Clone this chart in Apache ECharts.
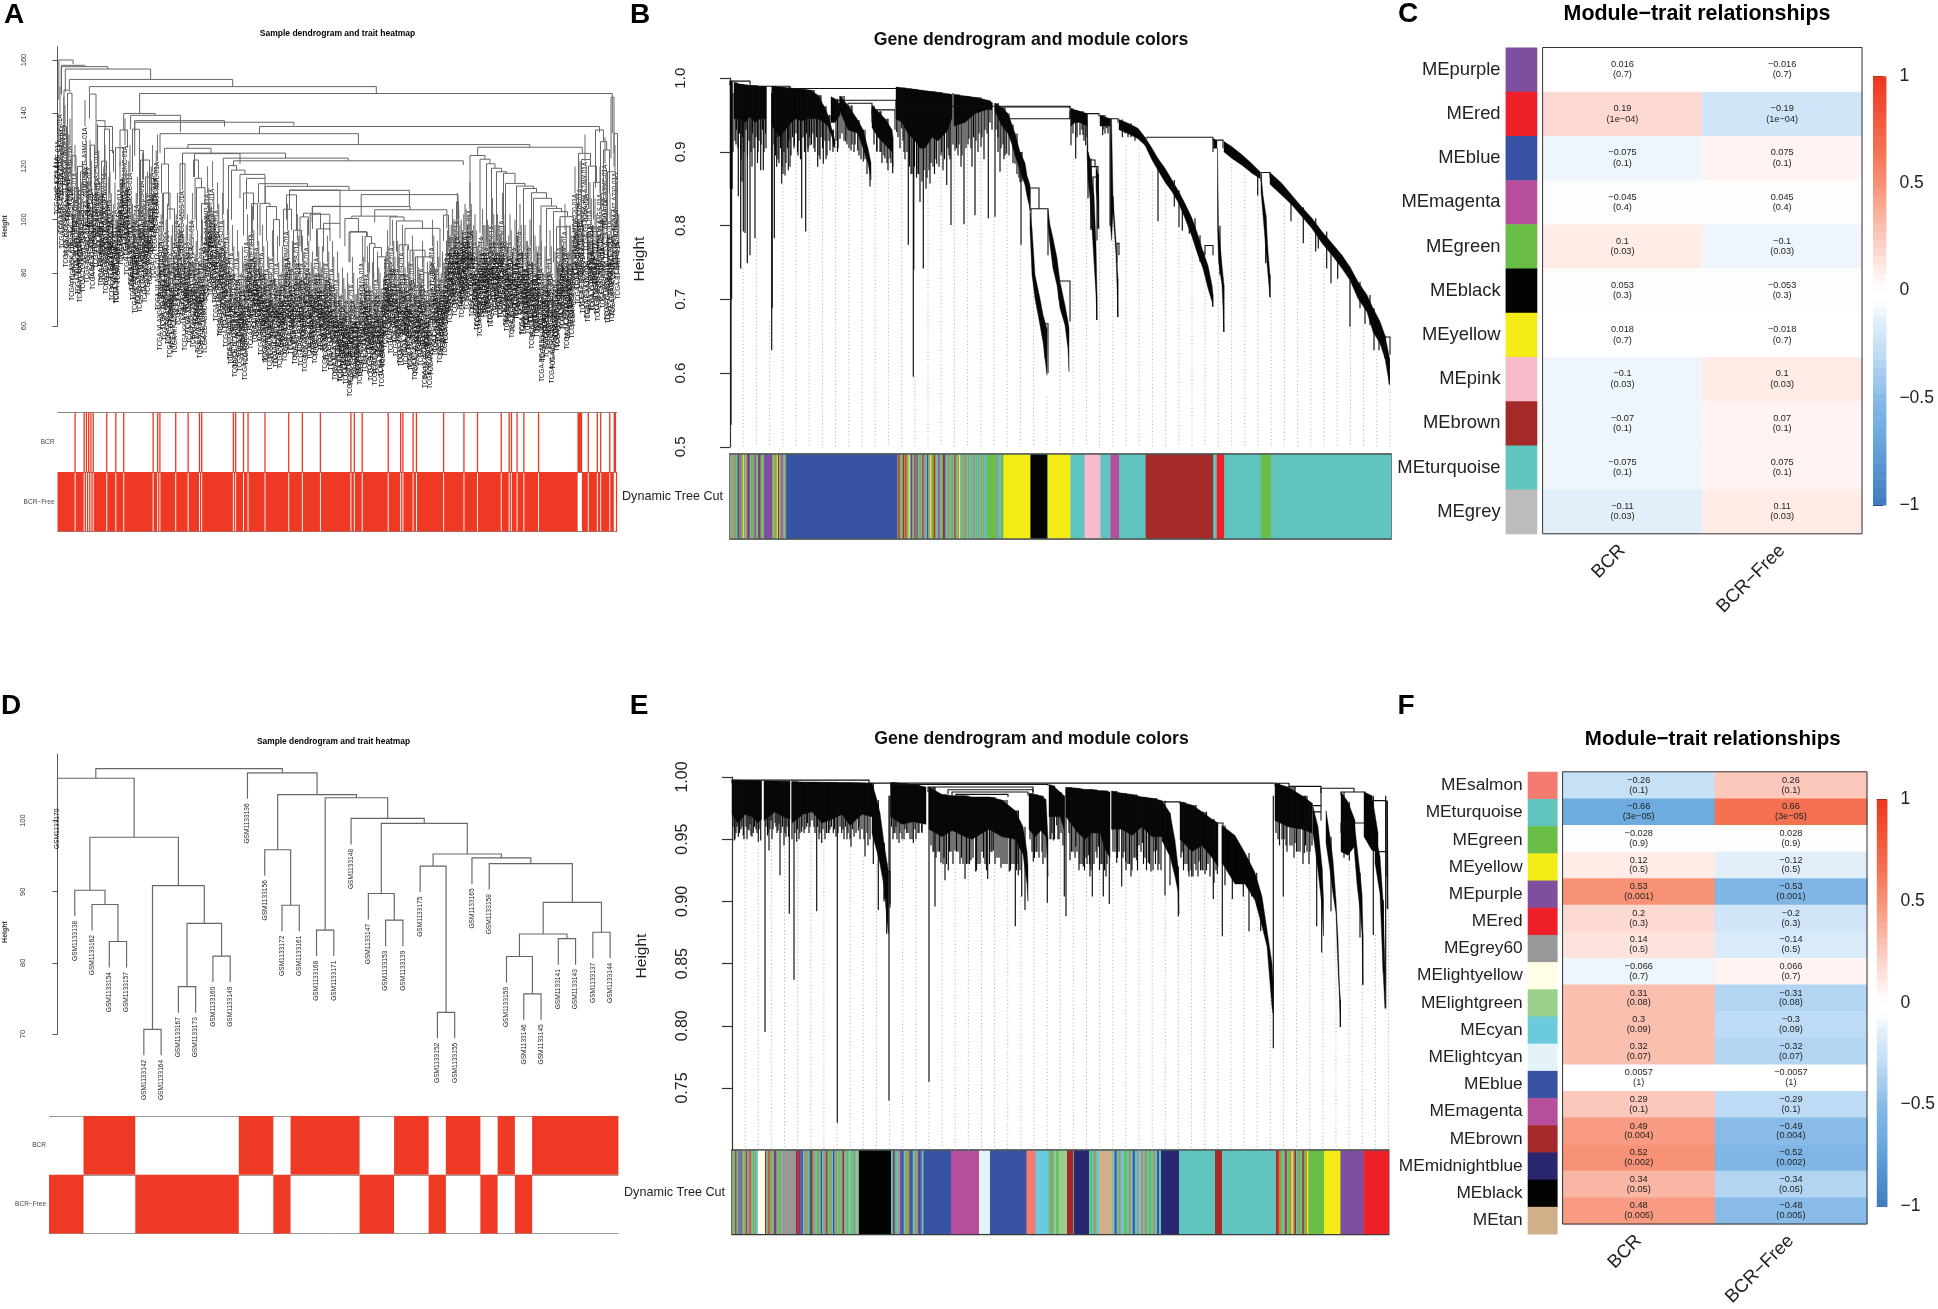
<!DOCTYPE html>
<html><head><meta charset="utf-8"><style>html,body{margin:0;padding:0;background:#fff}#c{width:1938px;height:1309px}</style>
<script src="https://cdn.jsdelivr.net/npm/echarts@6/dist/echarts.min.js"></script></head><body><div id="c"></div>
<script>
// ---------- Panel C / F : module-trait correlations ----------
const traits=["BCR","BCR\u2212Free"];
const cModules=["purple","red","blue","magenta","green","black","yellow","pink","brown","turquoise","grey"];
const cCor=[0.016,0.19,-0.075,-0.045,0.1,0.053,0.018,-0.1,-0.07,-0.075,-0.11];
const cCorText=["0.016","0.19","-0.075","-0.045","0.1","0.053","0.018","-0.1","-0.07","-0.075","-0.11"];
const cP=["0.7","1e\u221204","0.1","0.4","0.03","0.3","0.7","0.03","0.1","0.1","0.03"];
const fModules=["salmon","turquoise","green","yellow","purple","red","grey60","lightyellow","lightgreen","cyan","lightcyan","blue","magenta","brown","midnightblue","black","tan"];
const fCor=[-0.26,-0.66,-0.028,0.12,0.53,0.2,0.14,-0.066,0.31,0.3,0.32,0.0057,0.29,0.49,0.52,0.34,0.48];
const fCorText=["-0.26","-0.66","-0.028","0.12","0.53","0.2","0.14","-0.066","0.31","0.3","0.32","0.0057","0.29","0.49","0.52","0.34","0.48"];
const fP=["0.1","3e\u221205","0.9","0.5","0.001","0.3","0.5","0.7","0.08","0.09","0.07","1","0.1","0.004","0.002","0.05","0.005"];
const moduleColors={purple:"#7f4f9f",red:"#ee1f26",blue:"#3953a4",magenta:"#b64e9c",green:"#6abd45",black:"#020303",yellow:"#f4ec17",pink:"#f7bbcc",brown:"#a42a2a",turquoise:"#61c5bf",grey:"#bcbcbc",salmon:"#f37b70",grey60:"#989898",lightyellow:"#fffde5",lightgreen:"#9ad08a",cyan:"#6bcbdc",lightcyan:"#e3f3f8",midnightblue:"#2a276f",tan:"#cfb088"};
const rampStops=[[-1,"#3b78bc"],[-0.66,"#6baade"],[-0.5,"#83b8e6"],[-0.3,"#b8d8f3"],[-0.1,"#e7f2fb"],[-0.03,"#ffffff"],[0.03,"#ffffff"],[0.1,"#fff0ed"],[0.3,"#fbc3b5"],[0.5,"#f8967c"],[0.66,"#f47655"],[1,"#ee3a23"]];
// ---------- Panel D : sample tree (height, left, right) ----------
const dTree=[107.3,[105.95,"GSM1133170",[97.65,[90.2,"GSM1133138",[88.2,"GSM1133162",[83.0,"GSM1133154","GSM1133157"]]],[90.85,[70.65,"GSM1133142","GSM1133164"],[85.55,[76.65,"GSM1133167","GSM1133173"],[80.95,"GSM1133160","GSM1133149"]]]]],
 [106.7,"GSM1133136",[103.65,[95.9,"GSM1133156",[88.1,"GSM1133172","GSM1133161"]],[103.2,[84.6,"GSM1133168","GSM1133171"],[100.3,"GSM1133148",[99.6,[89.75,"GSM1133147",[86.0,"GSM1133153","GSM1133139"]],[95.3,[93.6,"GSM1133175",[73.05,"GSM1133152","GSM1133155"]],[94.75,"GSM1133165",[93.95,"GSM1133158",[88.5,[84.05,[80.9,"GSM1133159",[75.65,"GSM1133146","GSM1133145"]],[83.4,"GSM1133141","GSM1133143"]],[84.3,"GSM1133137","GSM1133144"]]]]]]]]]]];
const dHang=3.65;
const dBCR="001110000001101111001101101011111";
// ---------- Panel A : sample tree ----------
const aMerges=[[1.3,15.6,160,145,158.4],[4,27.4,158,147,157.4],[3.7,50.3,157.5,148,156.6],[7.8,93.1,156.6,148,152.7],[11.9,175.2,152.7,149,150],[31.9,318.8,150,147.5,147.4],[82.1,554.8,147.4,140,132.5],
[6.5,12.5,148.7,132,148],[10,14.5,147.5,115,120],[14.5,18.5,124,110,118],[20,25,120,100,112],[17,21,112,105,100],[5,9,135,118,110],[23,29,118,100,104],
[32,38.5,147.2,138,137.5],[38.5,47.5,137.2,125,134],[40,55,135,120,125],[47,52,134,115,125],[52,56,126,110,118],[33,37,128,112,118],[44,49,122,108,104],
[66.2,97.6,139.9,133.6,139.2],[62.5,70,133.7,120,127],[58,66,127,115,112],[75,82,134,118,126],[82,86,126,100,115],[83,92,122.4,100,108],[88,94,116,102,106],[73.1,122.9,139.2,134,133],[77.2,167,137.2,133,135],[77.2,236.4,136.6,124,135.3],
[202,542,135,132.3,132.8],[102.5,300.9,132.3,125,128.2],[130.3,472.3,128.2,126.8,127.2],[107,153.5,126.8,121,125],[125,228,125,114,123.1],[137,182.5,124.8,116,121],[165.8,290.7,123.1,102,122.1],[176,405.8,122.1,120,120.5],
[104,111,120.9,110,105],[106,112.5,110,96,100],[110,117,104,88,92],[122.5,127.5,121,106,100],[136,141,122.4,116,115.5],[137.5,144,115.5,100,112],[139,147.5,112,96,106],[144,151,106,92,103],[150,156,103,88,92],
[171,179,120.3,96,118.6],[174,187.5,118.6,100,117],[182.5,207.5,117,108,115.5],[189,207.5,115.5,104,106],[186,196,110,94,100],[194,200,106,90,96],
[201,250,113.5,106.1,112.5],[207.8,291.5,112.5,106,111],[202.5,212.5,106.1,94,104.9],[209,219,104.9,92,100],[216,222,100,86,90],[232,351.9,111,109.3,104.9],[232,282.5,111.1,103.9,105],[226,234,103.9,90,96],[229,239,109.3,100,96],[236,244,96,84,88],
[246,263,102.4,101,96.5],[242.5,251,101,90,94],[255,282.5,105,96.5,98.6],[259,272.5,96.5,86,92],[266,282.5,98.6,88,93],[252.7,272.3,102,92,96],[254.7,352.7,104.9,99,103.7],[303.7,400.5,109.4,101.3,101.7],[317.2,389.4,103.7,99,96.7],[294.3,339.6,101.3,100.5,101],[287.4,300.9,100.4,90,95.3],[291.5,309.8,95.3,84,93.6],
[292.5,309,95.5,84,93.6],[307.5,314,93.6,84,91],[312,317.5,91,80,89.5],[316,324,89.5,78,86],[320,328,86,76,78],[332.5,346.5,101,90,99.5],[339,365,99.5,88,96.7],[347.5,382.5,96.7,90,82],[341.5,351,90.5,80,88.5],[352.5,367.5,88.5,76,86],[358,375,86,74,80],[366,378,80,72,74],[386,391,101.7,92,90],[389,396,92,84,88],[399,401,106.7,96,94],
[420.2,524.8,127.2,124.1,124.9],[412.5,427.5,124.1,95,122.7],[422.5,432.5,122.7,95,121],[429,437.5,121,92,119.3],[434,444,119.3,92,118],[439,449,118,92,117.4],[446,457.5,117.4,92,113.6],[448,467.5,113.6,88,112.6],[459,476,112.6,90,111.7],[466,479,111.7,88,110.1],[474,489,110.1,90,108],[476,494,108,88,105.1],[483.5,499,105.1,82,104.2],[489,504,104.2,84,103],[496,510,103,84,101.1],[502.5,516,101.1,80,97.3],[499,512.5,97.3,80,85],
[521,533,124.9,104.2,122.6],[524,533,122.6,100,120.1],[531,539,120.1,104,114],[536,543,114,100,104],[538,546,133.7,112,129.3],[543,549.2,129.3,108,126.2],[546,552,126.2,104,110],[553.5,556.5,146,123,125],[556.5,560,132.4,120,110],[550,558,118,96,100]];
const aHang=10;
const aLeafNames=["TCGA-HC-8258-01A","TCGA-EJ-A46F-01A","TCGA-EG-A5BS-01A","TCGA-KK-A7AW-01A","TCGA-G9-6356-01A","TCGA-XK-AAJA-01A","TCGA-YL-A8SK-01A","TCGA-CH-5772-01A","TCGA-J4-A67L-01A","TCGA-VI-A9GS-01A","TCGA-HI-7169-01A","TCGA-ZG-A9MC-01A","TCGA-2A-A8W3-01A","TCGA-FC-A5OB-01A","TCGA-SU-A7E7-01A","TCGA-M7-A720-01A"];
const aLeafTops=[124,140,112,133,108,128,92,118,100,91,112,135,99,120,100,110,126,104,100,118,97,108,92,104,90,112,106,128,102,118,96,87,106,87,115,92,108,98,118,110,122,73,100,78,96,71,88,72,100,86,111,74,92,76,100,77,86,70,90,73,110,96,112,91,104,78,100,82,94,70,88,63,86,65,80,63,92,81,95,76,90,76,88,70,82,66,86,68,84,66,80,70,96,74,82,68,92,72,84,66,90,70,78,68,86,74,80,66,84,68,82,62,78,61,72,64,70,56,76,62,68,60,84,66,80,65,74,60,78,70,60,75,86,76,90,76,82,68,88,72,80,67,84,62,76,70,82,60,74,59,90,71,82,68,78,72,86,84,94,86,100,88,86,96,88,104,86,92,80,78,94,88,90,84,98,88,92,85,100,88,80,92,78,90,84,96,78,88,82,90,74,84,78,88,62,80,70,86,61,78,72,90,80,96,74,88,78,110,96,112,90,122,85,104,88,98,86,110,90,121,85,100,84,118,100];
const aLeafTops2=[130,118,136,104,122,112,98,108,94,104,96,120,106,112,96,104,116,98,110,94,106,100,96,90,98,104,116,108,112,98,92,100,90,104,96,100,94,110,100,116,88,92,82,90,76,84,74,92,82,96,84,88,80,90,74,82,72,84,76,92,102,94,100,84,96,80,90,74,86,68,80,66,78,70,74,68,84,74,86,78,82,72,80,68,76,70,78,66,74,70,76,72,86,72,76,70,84,68,78,70,82,74,72,70,80,72,74,70,78,66,76,64,70,62,68,60,66,60,70,62,64,62,76,68,74,62,70,64,72,64,68,78,80,72,82,70,76,66,80,68,74,66,78,64,72,68,76,62,70,64,84,72,76,70,74,76,88,88,90,90,94,90,92,94,92,96,88,86,82,84,88,86,88,82,92,86,88,86,92,82,84,86,80,84,86,88,80,82,80,84,78,80,80,82,70,76,74,80,66,76,74,84,82,88,78,84,82,100,90,100,88,110,84,98,88,92,84,100,90,108,84,94,86,104,92];
const aSamples=495;
const aBCRpositive=[15,23,25,27,29,31,43,51,58,84,88,90,104,115,125,127,155,157,164,168,183,204,216,232,259,262,269,292,303,305,314,317,341,359,371,392,399,401,406,412,425,460,461,462,463,469,477,480,488,492,493];
// ---------- Panel B : gene dendrogram ----------
const bBands=[[[0,.996,.85],[2.5,.996,.85]],
[[4,.994,.945],[10,.992,.945],[15,.991,.94],[20,.990,.948],[25,.990,.94],[30,.989,.945],[36,.989,.945]],
[[42,.989,.935],[50,.988,.92],[58,.987,.935],[65,.986,.945],[72,.985,.942],[80,.984,.947]],
[[80,.984,.945],[88,.977,.945],[94,.962,.94],[98,.950,.935],[102,.93,.92],[105,.915,.905]],
[[101,.975,.94],[105,.972,.94],[110,.965,.95]],
[[110,.976,.955],[118,.963,.93],[128,.943,.925],[133,.93,.905],[138,.905,.885],[141,.885,.862]],
[[142,.963,.933],[148,.955,.92],[155,.945,.91],[162,.93,.90],[163,.92,.88]],
[[166,.988,.945],[172,.987,.94],[178,.986,.925],[185,.985,.915],[190,.984,.905],[195,.983,.905],[202,.982,.92],[208,.981,.915],[217,.979,.928],[222,.978,.946]],
[[224,.978,.935],[235,.976,.94],[245,.974,.952],[258,.970,.958],[262,.967,.957]],
[[265,.966,.955],[272,.960,.935],[278,.952,.925],[282,.937,.91],[285,.925,.895],[290,.900,.875],[295,.885,.855],[297,.868,.84],[300,.855,.823]],
[[300,.818,.796],[302,.796,.733],[305,.733,.701],[310,.701,.665],[313,.679,.642],[317,.660,.597]],
[[318,.821,.801],[320,.801,.774],[323,.783,.742],[327,.756,.719],[330,.724,.688],[335,.692,.665],[338,.670,.633],[339,.661,.602]],
[[341,.959,.935],[345,.957,.94],[350,.955,.94],[357,.952,.935]],
[[357,.952,.90],[358,.90,.864],[360,.891,.837],[362,.864,.796],[364,.841,.751],[366,.774,.706],[367,.706,.672]],
[[366,.88,.85],[368,.87,.82],[369,.83,.796]],
[[370,.95,.935],[380,.945,.935]],
[[380.5,.945,.80],[381.5,.945,.78],[383,.84,.819],[386,.778,.76],[388,.728,.676]],
[[389,.944,.93],[398,.939,.925],[408,.932,.918],[415,.920,.909]],
[[415,.920,.909],[422,.905,.889],[428,.891,.875],[435,.878,.859],[442,.862,.846],[448,.848,.832],[455,.830,.810],[462,.810,.785],[468,.787,.760],[473,.765,.742],[478,.746,.715],[482,.719,.697],[483,.706,.69]],
[[483.5,.918,.905],[487,.915,.905]],
[[487.5,.905,.80],[488.5,.80,.751],[492,.746,.719],[494,.719,.656]],
[[494,.914,.90],[502,.907,.891],[512,.896,.882],[522,.884,.871],[530,.873,.864]],
[[531,.871,.846],[533,.841,.814],[536,.814,.765],[538,.765,.733],[540,.733,.703]],
[[540,.872,.856],[552,.857,.841],[562,.841,.828],[572,.825,.812],[582,.810,.796],[592,.792,.776],[602,.776,.760],[612,.760,.742],[620,.744,.726],[628,.724,.701],[637,.706,.683],[643,.688,.656],[650,.670,.640],[655,.651,.620],[659.5,.620,.584]]];
const bHairs=[[1,.53],[1.6,.70],[8.3,.84],[10.7,.742],[13.3,.792],[15,.79],[17.3,.749],[20,.76],[25,.783],[30.7,.875],[33.3,.875],[41.7,.631],[42.2,.688],[44.3,.783],[46.7,.88],[51.7,.857],[55,.868],[58.3,.875],[64.3,.909],[71.7,.81],[75.7,.792],[80,.909],[87.7,.88],[93.3,.884],[100,.902],[103.3,.907],[110,.918],[115.7,.914],[121,.902],[127.7,.902],[133.3,.887],[140,.853],[146.7,.902],[150,.90],[155,.891],[160,.891],[162.7,.871],[166.7,.927],[171.7,.932],[178.3,.774],[183.3,.595],[183.8,.74],[190,.832],[193.3,.742],[200,.857],[206.7,.884],[211.7,.90],[216.7,.855],[221,.801],[225,.902],[234,.802],[239,.918],[245,.814],[251,.907],[258.3,.81],[265,.812],[270,.873],[276.7,.898],[281.7,.918],[285,.884],[290,.859],[291,.774],
[3,.90],[6,.91],[12,.86],[22,.88],[28,.90],[36,.905],[48,.89],[53,.87],[60,.88],[68,.895],[78,.90],[84,.905],[90,.89],[96,.89],[108,.905],[124,.90],[131,.89],[137,.87],[152,.885],[158,.875],[174,.90],[181,.87],[187,.87],[197,.865],[203,.88],[213,.875],[219,.895],[228,.895],[231,.88],[242,.88],[248,.90],[254,.89],[262,.93],[268,.90],[274,.89],
[341,.909],[345.7,.891],[350,.923],[353,.923],[355.7,.909],[358,.837],[361,.794],[366.7,.672],[368.3,.796],[372.7,.923],[376.7,.932],[383,.819],[387.7,.676],[392.3,.92],[398,.92],[428,.806],[444.3,.826],[449,.798],[452.3,.793],[459.3,.789],[465,.778],[470,.751],[474,.749],[482.7,.69],[490,.733],[493.7,.656],[527.7,.841],[535.7,.749],[540,.703],[561,.806],[573.3,.776],[585.7,.765],[588.3,.769],[596.7,.742],[601,.722],[607.7,.728],[620,.663],[630,.688],[635,.667],[640,.665],[644,.631],[649,.631],[655,.62],[659.3,.585],
[5,.915],[6.5,.93],[8,.905],[9.5,.925],[11,.89],[12.5,.92],[14,.90],[16,.93],[17.5,.895],[19,.915],[21,.90],[22.5,.925],[24,.905],[26,.92],[27.5,.885],[29,.915],[31,.91],[32.5,.93],[34,.90],[35.5,.925],
[44,.91],[45.5,.895],[47,.92],[49,.885],[50.5,.905],[52,.88],[54,.90],[56,.885],[57.5,.905],[59,.915],[61,.895],[62.5,.92],[64,.905],[66,.925],[67.5,.90],[69,.915],[70.5,.89],[73,.92],[74.5,.90],[76.5,.925],[78,.905],[79.5,.92],[81.5,.91],[83,.925],[85,.90],[86.5,.92],[89,.895],[91,.92],[92.5,.905],[95,.915],[97,.895],[99,.915],
[103,.90],[106,.915],[107.5,.90],[112,.925],[114,.915],[117,.91],[119,.905],[122,.91],[125,.91],[129,.895],[135,.89],[144,.91],[147,.90],[151,.90],[154,.895],[157,.885],[161,.885],
[168,.92],[170,.905],[173,.915],[175,.89],[177,.90],[179.5,.88],[182,.87],[184.5,.88],[186.5,.865],[188.5,.87],[192,.86],[194,.875],[196,.85],[199,.875],[201,.885],[204.5,.87],[206,.89],[209,.88],[211,.895],[214.5,.89],[218,.905],[220,.89],[223,.91],[226.5,.905],[229,.91],[232,.895],[236,.905],[238,.91],[241,.905],[243.5,.92],[246,.915],[249,.925],[252,.92],[255,.93],[257,.925],[260,.94],
[266,.93],[268,.92],[271,.905],[273,.91],[275,.895],[279,.895],[283,.885],[287,.87],[289,.865],[292,.86],[343,.925],[347,.92],[352,.93],[354,.915],[373,.93],[375,.925],[378,.925],[395,.925],[401,.92],[405,.915]];
const bMerges=[[60,167,.986,.985,.985],[108,166,.970,.968,.958],[118,142,.966,.95,.95],[142,165,.957,.94,.93],[272,340,.961,.955,.945],[277,340,.945,.93,.955],[357,369,.952,.92,.948],[380,388,.945,.80,.94],[417,483,.920,.918,.915],[483,493,.916,.90,.905],[531,540,.872,.86,.865],[360,365,.889,.87,.88],[361,368,.880,.796,.796],[363,367,.866,.80,.78],[387,389,.776,.75,.76],[475,483,.773,.76,.760],[655,660,.649,.62,.625],[300,309,.851,.82,.823],[301,318,.823,.80,.76],[315,318,.667,.62,.60],[329,340,.725,.70,.670],[167,340,.962,.96,.96],[20,60,.989,.988,.986],[0,20,.996,.99,.99]];
const bGuides=[.742,.783,.67,.857,.909,.909,.884,.927,.902,.887,.902,.891,.932,.595,.873,.90,.902,.918,.907,.812,.898,.774,.719,.568,.67,.891,.837,.796,.819,.909,.914,.873,.855,.798,.787,.724,.742,.884,.869,.85,.701,.828,.81,.789,.76,.728,.661,.665,.629,.584];
const bStrip=[[0,15,"totoeogtbnoptoyo"],[15,34,"tonbtogepotbnotg"],[34,42,"p"],[42,56,"otgoyntopeto"],[56,167,"b"],[167,257,"onotgnorotyebotnoptgotnoetbotyognotepotgnbotoetgotnoteytotgoetotgteotgtetotgtet"],[257,266,"g"],[266,273,"etg"],[273,300,"y"],[300,317,"k0"],[317,340,"y"],[340,354,"t"],[354,370,"k"],[370,380,"t"],[380,388.6,"m"],[388.6,415,"t"],[415,482.6,"n"],[482.6,486,"t"],[486,493.5,"r"],[493.5,530,"t"],[530,540,"g"],[540,660,"t"]];
// ---------- Panel E : gene dendrogram ----------
const eBands=[[[0,.9975,.97],[6,.9975,.963],[13,.9972,.97],[20,.9972,.968],[26,.9971,.963],[29.5,.997,.966]],
[[32,.997,.965],[43,.9968,.972],[51,.9966,.968],[58,.9965,.966]],
[[60,.9963,.963],[71,.996,.97],[80,.996,.972],[90,.9958,.963],[100,.9957,.966],[110,.9956,.97],[118,.9955,.961],[130,.9953,.97],[140,.995,.968]],
[[140,.995,.955],[145,.9815,.94],[148,.971,.93],[152,.947,.912],[155,.931,.885],[156.5,.923,.874]],
[[158.5,.9955,.968],[170,.995,.962],[181,.994,.964],[194,.992,.962]],
[[197,.992,.958],[210,.986,.952],[220,.985,.957],[233,.985,.952],[240,.984,.95],[257,.984,.958],[270,.9815,.952],[283,.973,.95],[291,.96,.938],[295,.94,.914],[296,.928,.90]],
[[297,.987,.958],[303,.986,.952],[309,.985,.957],[314,.982,.952],[316,.95,.92]],
[[317,.9937,.968],[321,.993,.968],[328,.988,.968],[332,.985,.958]],
[[334,.9917,.968],[346,.991,.955],[353,.99,.95],[360,.99,.955],[368,.989,.955],[373,.989,.942],[378,.988,.935]],
[[379.5,.9888,.958],[390,.987,.958],[400,.986,.953],[410,.984,.96],[420,.983,.952],[430,.981,.952]],
[[430,.981,.949],[438,.971,.936],[443,.949,.92],[446,.928,.908],[447,.915,.89]],
[[448,.980,.95],[460,.9775,.94],[470,.972,.945],[480,.966,.935],[486,.963,.928]],
[[490,.961,.931],[503,.953,.914],[513,.939,.914],[523,.923,.901],[530,.904,.88],[535,.877,.864],[540,.85,.815],[541,.837,.81]],
[[543,.995,.965],[556,.992,.96],[570,.985,.958],[580,.979,.955]],
[[581,.976,.955],[586,.96,.925],[590,.928,.896],[591.5,.901,.872]],
[[594,.973,.947],[598,.952,.925],[601,.933,.906],[604,.901,.89],[606,.869,.847],[607.5,.831,.821],[608.5,.821,.799]],
[[609,.988,.94],[616,.98,.937],[623,.965,.945]],
[[622,.965,.944],[625,.944,.914],[628,.923,.893],[630,.906,.874],[631,.874,.833]],
[[632,.988,.952],[640,.985,.941],[646,.955,.94]],
[[643,.955,.931],[648,.936,.906],[651,.901,.845],[653,.847,.814]],
[[655,.981,.92],[656,.93,.894]]];
const eHairs=[[2.3,.949],[6.3,.952],[11.3,.953],[17,.957],[21.3,.955],[26.3,.948],[28.7,.949],[33,.795],[37,.941],[43,.963],[48,.921],[54,.952],[57.3,.89],[62,.837],[64.7,.948],[69.7,.956],[74.7,.96],[84.7,.892],[89.7,.947],[96.3,.955],[101.3,.955],[105.3,.722],[109.7,.955],[119,.944],[126.3,.957],[133,.936],[141.3,.93],[146.3,.893],[152.3,.902],[154.7,.874],[157,.74],[158,.898],[163,.955],[167,.947],[174.7,.955],[181.3,.947],[189.7,.956],[197,.755],[203,.896],[209,.931],[213,.917],[216.3,.925],[223,.941],[233,.918],[239,.933],[243.7,.924],[255.7,.918],[261.3,.941],[269,.927],[277.3,.924],[283.3,.88],[286.3,.921],[289.7,.904],[293,.893],[301.3,.932],[315.3,.899],[321.3,.949],[332.3,.904],
[324.7,.961],[329,.955],[334,.888],[338,.933],[343.7,.944],[351.3,.928],[356.3,.937],[360.3,.904],[366.3,.944],[371.3,.904],[377.3,.898],[384.7,.931],[389.7,.912],[393.7,.932],[399,.92],[404.7,.933],[410.3,.947],[416.3,.931],[419,.924],[424.7,.941],[433,.905],[438,.913],[446.3,.888],[451.3,.939],[456.3,.924],[459.7,.92],[467,.932],[473,.922],[481.3,.902],[485.3,.922],[490.3,.872],[493,.913],[500.3,.902],[511.3,.904],[517,.876],[519.7,.904],[524.7,.897],[528.7,.876],[541.3,.782],[551.3,.904],[563,.947],[572.3,.939],[584.7,.88],[589.7,.859],[599,.892],[608.3,.799],[612,.935],[617.3,.933],[628,.871],[630.7,.833],[641.3,.873],[651.3,.843],[653.7,.814],[655.3,.894],
[4,.955],[9,.958],[15,.95],[19,.953],[24,.958],[36,.955],[40,.95],[46,.957],[52,.945],[60,.95],[67,.95],[72,.955],[77,.955],[82,.96],[87,.95],[93,.95],[98,.958],[104,.952],[112,.95],[116,.955],[122,.952],[128,.95],[136,.945],[161,.95],[165,.95],[172,.95],[178,.95],[184,.95],[187,.955],[201,.94],[206,.94],[212,.935],[219,.94],[226,.94],[231,.93],[236,.93],[246,.93],[250,.94],[253,.93],[259,.94],[265,.935],[273,.93],[280,.93],[286,.93],[305,.94],[311,.93],[319,.95],[326,.95],[341,.94],[348,.93],[354,.935],[358,.92],[364,.94],[369,.93],[375,.93],[383,.94],[392,.94],[396,.93],[402,.935],[407,.945],[413,.935],[422,.94],[427,.93],[450,.94],[455,.93],[463,.93],[470,.925],[476,.93],[484,.925],[546,.95],[550,.95],[554,.945],[560,.945],[566,.94],[575,.94],[578,.94],
[1,.96],[3,.95],[5,.96],[7.5,.955],[8.5,.965],[10,.96],[12,.95],[14,.96],[16,.958],[18,.962],[20,.952],[22.5,.96],[25,.955],[27,.958],[34,.96],[35.5,.953],[38,.958],[39,.965],[41,.958],[44,.96],[45,.955],[47,.962],[49,.955],[50.5,.96],[53,.955],[55,.96],[56.5,.952],
[63,.955],[65.5,.958],[68,.955],[70,.96],[73,.958],[75.5,.963],[78,.96],[80,.965],[83,.955],[85.5,.96],[88,.955],[91,.958],[94.5,.955],[97,.955],[99.5,.96],[102.5,.958],[106,.955],[108,.96],[111,.958],[113.5,.96],[115,.95],[118,.95],[120.5,.958],[124,.955],[127,.96],[130,.958],[132,.95],[135,.955],[138,.95],
[159.5,.96],[162,.955],[164,.96],[168,.955],[170,.95],[173,.958],[176,.955],[180,.95],[183,.958],[186,.955],[190,.955],
[199,.945],[202,.94],[204,.935],[207.5,.94],[211,.93],[214.5,.93],[217.5,.94],[221,.93],[224.5,.94],[228,.93],[229.5,.935],[234.5,.93],[237.5,.93],[241,.935],[244.5,.925],[248,.93],[251.5,.935],[254.5,.925],[257.5,.93],[260,.94],[263,.93],[267,.935],[271,.93],[275,.93],[278.5,.925],[282,.93],[284.5,.925],[288,.925],
[298,.95],[300,.94],[302.5,.935],[304,.94],[307,.935],[310,.94],[313,.935],[318,.95],[320,.955],[322.5,.95],[327,.95],[331,.945],[337,.955],[339.5,.94],[343,.935],[345,.94],[347,.925],[350,.93],[352.5,.925],[355,.93],[357.5,.93],[359,.925],[362,.93],[365,.935],[367.5,.925],[370,.93],[372.5,.925],[374,.92],
[381,.94],[385.5,.935],[387,.94],[391,.935],[394,.925],[397.5,.93],[400,.925],[403,.935],[405.5,.925],[409,.94],[411.5,.93],[414.5,.925],[417.5,.93],[421,.925],[423.5,.93],[426,.925],[429,.925],
[449,.935],[451.5,.925],[453,.93],[457,.92],[459,.925],[461,.92],[464,.925],[466,.92],[468.5,.925],[471,.925],[474.5,.925],[478,.92],[482,.915],
[544,.955],[547.5,.945],[552,.95],[555,.94],[558,.945],[562,.935],[564.5,.94],[568,.94],[571,.93],[573.5,.945],[577,.93],[580,.945]];
const eMerges=[[137,542,.9951,.995,.995],[159,316,.994,.993,.993],[196,301,.992,.988,.988],[216,301,.9897,.986,.986],[220,296,.988,.985,.985],[224,276,.986,.984,.984],[430,448,.980,.975,.978],[482,491,.963,.95,.958],[557,589,.9925,.99,.977],[589,622,.991,.987,.988],[609,633,.988,.985,.986],[637,654,.981,.975,.94],[609,633,.963,.955,.958],[644,654,.940,.93,.92],[152,158,.924,.90,.895],[577,589,.977,.97,.972],[577,589,.972,.965,.965],[543,557,.995,.993,.992],[0,137,.9975,.995,.995]];
const eGuides=[.955,.948,.957,.952,.955,.963,.96,.722,.944,.936,.93,.74,.955,.955,.755,.93,.941,.941,.941,.941,.925,.904,.932,.899,.963,.933,.928,.944,.931,.932,.955,.924,.905,.888,.92,.922,.922,.902,.904,.897,.835,.904,.947,.939,.859,.874,.933,.833,.873,.894];
const eStrip=[[0,24,"otgnotbepotgonterotgto"],[24,26,"c"],[26,33,"w"],[33,50,"ntorgotenbotgot"],[50,64,"e"],[64,127,"nrbpbtoegtbnoetgotbtoentgotbeotgtonetgtlgtotle"],[127,159,"k0"],[159,191.5,"tbotepbtogpbtoebpt"],[191.5,219,"b"],[219,247,"m"],[247,258,"w2"],[258,294.5,"b"],[294.5,303.5,"s"],[303.5,316,"c"],[316,326,"tgotlg"],[326.8,335,"l"],[335,341,"n"],[342,357,"d"],[357,367,"tgtotc"],[367,380.6,"h"],[380.6,429,"tbtoctgtotbtecototgtotbt"],[429,447,"d"],[447,483,"t"],[483,490,"n"],[490,544,"t"],[544,578,"nrogtontgoyentogtngoyg"],[578,592,"g"],[592,608.5,"y"],[608.5,631.5,"p"],[631.5,656.7,"r"]];
const stripColors={t:"#61c5bf",b:"#3953a4",g:"#6abd45",n:"#a42a2a",r:"#ee1f26",o:"#b98f4e",p:"#7f4f9f",e:"#989898",y:"#f4ec17",c:"#6bcbdc",m:"#b64e9c",k:"#f7bbcc",l:"#9ad08a",w:"#fffde5",s:"#f37b70",d:"#2a276f",h:"#cfb088"};
const stripSpecial={"k0":"#020303","w2":"#e3f3f8"};
</script>
<script>
const HEAD='"Liberation Sans",Arial,sans-serif';
const grids=[],xAxes=[],yAxes=[],series=[],texts=[];
const hex=c=>[1,3,5].map(i=>parseInt(c.substr(i,2),16));
function ramp(v){v=Math.round(v/0.04)*0.04;v=Math.max(-1,Math.min(1,v));
 for(let i=1;i<rampStops.length;i++){if(v<=rampStops[i][0]){const [a,ca]=rampStops[i-1],[b,cb]=rampStops[i],t=(v-a)/(b-a),A=hex(ca),B=hex(cb);
  return "rgb("+A.map((x,k)=>Math.round(x+(B[k]-x)*t)).join(",")+")";}}return rampStops[rampStops.length-1][1];}
function addGrid(l,t,w,h,x,y,extra){const i=grids.length;grids.push(Object.assign({left:l,top:t,width:w,height:h,containLabel:false},extra||{}));
 xAxes.push(Object.assign({gridIndex:i},x));yAxes.push(Object.assign({gridIndex:i},y));return i;}
const hiddenX=(min,max)=>({type:"value",min,max,show:false});
const hiddenY=(min,max)=>({type:"value",min,max,show:false});
function custom(g,data,renderItem,z){series.push({type:"custom",xAxisIndex:g,yAxisIndex:g,data,renderItem,silent:true,animation:false,clip:false,z:z||2,progressive:0});}
function text(t,x,y,font,opt){texts.push({type:"text",x,y,rotation:(opt&&opt.rot)||0,silent:true,z:10,style:{text:t,font:font,fill:(opt&&opt.fill)||"#000",align:(opt&&opt.align)||"center",verticalAlign:"middle"}});}
const lineEl=(a,b,st)=>({type:"line",shape:{x1:a[0],y1:a[1],x2:b[0],y2:b[1]},style:st});
function mergeRender(rows,st){return(p,api)=>{const m=rows[p.dataIndex];
  const a=api.coord([m[0],m[2]]),b=api.coord([m[1],m[2]]),c=api.coord([m[0],m[3]]),d=api.coord([m[1],m[4]]);
  return{type:"polyline",shape:{points:[c,a,b,d]},style:st};};}
const idx=a=>a.map((_,i)=>[i]);
// contiguous runs of a 0/1 list, [start,end,rowIndex]
function runs(flags,row){const out=[];let s=null;flags.forEach((f,i)=>{if(f&&s===null)s=i;if(!f&&s!==null){out.push([s,i,row]);s=null;}});if(s!==null)out.push([s,flags.length,row]);return out;}

// ---- correlation panel
function corPanel(modules,cor,corText,pv,o){
 const labels=modules.map(m=>"ME"+m);
 const sw=addGrid(o.swL,o.top,o.swW,o.h,{type:"category",data:["m"],show:false},{type:"category",inverse:true,data:labels,axisLine:{show:false},axisTick:{show:false},axisLabel:{fontSize:o.fs,fontFamily:HEAD,color:"#222",margin:o.swM,interval:0}});
 custom(sw,idx(modules),(p,api)=>{const i=p.dataIndex,c=api.coord([0,i]),s=api.size([1,1]);return{type:"rect",shape:{x:c[0]-s[0]/2,y:c[1]-s[1]/2,width:s[0],height:s[1]+.5},style:{fill:moduleColors[modules[i]]}};});
 const g=addGrid(o.left,o.top,o.w,o.h,{type:"category",data:traits,axisLine:{show:false},axisTick:{show:false},axisLabel:{rotate:45,fontSize:o.xfs,fontFamily:HEAD,color:"#222",margin:o.xm,interval:0}},{type:"category",inverse:true,data:labels,show:false});
 const rows=[];modules.forEach((m,i)=>{rows.push([0,i,cor[i],corText[i]]);rows.push([1,i,-cor[i],corText[i].startsWith("-")?corText[i].slice(1):"-"+corText[i]]);});
 custom(g,rows.map(r=>[r[0],r[1]]),(p,api)=>{const r=rows[p.dataIndex],c=api.coord([r[0],r[1]]),s=api.size([1,1]);
  return{type:"group",children:[{type:"rect",shape:{x:c[0]-s[0]/2,y:c[1]-s[1]/2,width:s[0]+.5,height:s[1]+.5},style:{fill:ramp(r[2])}},
   {type:"text",x:c[0],y:c[1],style:{text:r[3].replace("-","\u2212")+"\n("+pv[r[1]]+")",align:"center",verticalAlign:"middle",font:"9.2px "+HEAD,fill:"#222",lineHeight:o.lh}}]};});
 custom(g,[[0]],(p,api)=>{const a=api.coord([0,0]),s=api.size([1,1]);return{type:"rect",shape:{x:a[0]-s[0]/2,y:a[1]-s[1]/2,width:s[0]*2,height:s[1]*modules.length},style:{fill:"none",stroke:"#333",lineWidth:1}};},5);
 const steps=[];for(let v=-1;v<1;v+=0.04)steps.push(v);
 const cb=addGrid(o.cbL,o.cbT,o.cbW,o.cbH,hiddenX(0,1),{type:"value",min:-1,max:1,interval:.5,position:"right",splitLine:{show:false},axisLine:{show:true,lineStyle:{color:"#222"}},axisTick:{show:true,length:10,lineStyle:{color:"#222"}},axisLabel:{fontSize:17.5,fontFamily:HEAD,color:"#222",margin:13,formatter:v=>String(v).replace("-","\u2212")}});
 custom(cb,steps.map(v=>[0,v]),(p,api)=>{const v=steps[p.dataIndex],a=api.coord([0,v]),b=api.coord([1,v+0.04]);return{type:"rect",shape:{x:a[0],y:b[1],width:b[0]-a[0],height:a[1]-b[1]+.5},style:{fill:ramp(v+0.02)}};});
}
corPanel(cModules,cCor,cCorText,cP,{swL:1505.6,swW:31.7,swM:5,fs:18.4,left:1542.6,top:47.5,w:319.4,h:486.3,xfs:18.5,xm:14,lh:10.5,cbL:1873,cbT:76.3,cbW:13.4,cbH:428.7});
corPanel(fModules,fCor,fCorText,fP,{swL:1527.7,swW:29.9,swM:5,fs:17.3,left:1562.6,top:771.8,w:304.4,h:462.2,xfs:18.5,xm:14,lh:9.8,cbL:1876.8,cbT:799.4,cbW:13.5,cbH:407});

// ---- gene dendrogram panel
function genePanel(bands,hairs,merges,guides,strip,o){
 const g=addGrid(o.axisX,o.top,o.right-o.axisX,o.bot-o.top,{type:"value",min:o.x0,max:o.x1,show:false},
  {type:"value",min:o.ymin,max:1,interval:o.step,splitLine:{show:false},axisLine:{show:true,lineStyle:{color:"#333",width:1.2}},axisTick:{show:true,length:10,lineStyle:{color:"#333",width:1.2},customValues:o.ticks},axisLabel:{rotate:90,fontSize:o.lfs,fontFamily:HEAD,color:"#222",margin:16,customValues:o.ticks,formatter:v=>v.toFixed(o.dec)}});
 custom(g,idx(guides),(p,api)=>{const i=p.dataIndex,x=(i+1)*o.gStep,a=api.coord([x,guides[i]]),b=api.coord([x,o.ymin]);return lineEl(a,b,{stroke:"#a0a0a0",lineWidth:.9,lineDash:[1,2.6]});},1);
 custom(g,idx(bands),(p,api)=>{const b=bands[p.dataIndex],pts=b.map(r=>api.coord([r[0],r[1]])).concat(b.slice().reverse().map(r=>api.coord([r[0],r[2]])));return{type:"polygon",shape:{points:pts},style:{fill:"#050505",stroke:"#050505",lineWidth:.4}};},3);
 const hangFrom=(x,fallback)=>{let best=null;bands.forEach(b=>{if(x>=b[0][0]&&x<=b[b.length-1][0]){const near=b.reduce((m,r)=>Math.abs(r[0]-x)<Math.abs(m[0]-x)?r:m,b[0]);if(best===null||near[2]<best)best=near[1];}});return best===null?fallback:best;};
 custom(g,idx(hairs),(p,api)=>{const h=hairs[p.dataIndex],top=hangFrom(h[0],o.topFill),a=api.coord([h[0],top]),b=api.coord([h[0],h[1]]);return lineEl(a,b,{stroke:"#0a0a0a",lineWidth:1.15});},3);
 custom(g,idx(merges),mergeRender(merges,{fill:"none",stroke:"#111",lineWidth:1.1}),4);
 const s=addGrid(o.axisX+(0-o.x0)*(o.right-o.axisX)/(o.x1-o.x0),o.stripT,o.stripW,o.stripH,{type:"value",min:0,max:o.stripMax,show:false},hiddenY(0,1),{show:true,borderColor:"#3a3a3a",borderWidth:1.5,backgroundColor:"#61c5bf"});
 const rects=[];strip.forEach(([a,b,c])=>{if(c.length===1||stripSpecial[c]){rects.push([a,b,stripSpecial[c]||stripColors[c]]);}else{const w=(b-a)/c.length;[...c].forEach((k,i)=>rects.push([a+i*w,a+(i+1)*w,stripColors[k]]));}});
 custom(s,rects.map(r=>[r[0]]),(p,api)=>{const r=rects[p.dataIndex],a=api.coord([r[0],1]),b=api.coord([r[1],0]);return{type:"rect",shape:{x:a[0],y:a[1]+.7,width:b[0]-a[0]+.3,height:b[1]-a[1]-1.4},style:{fill:r[2]}};});
}
genePanel(bBands,bHairs,bMerges,bGuides,bStrip,{axisX:704.6,right:1392,top:78.2,bot:446.8,x0:-25.4,x1:662,ymin:.5,step:.1,ticks:[.5,.6,.7,.8,.9,1],lfs:15,dec:1,gStep:13.2,topFill:.98,stripT:454,stripH:85,stripW:661,stripMax:660});
genePanel(eBands,eHairs,eMerges,eGuides,eStrip,{axisX:706.6,right:1390,top:777,bot:1150.2,x0:-25.4,x1:658,ymin:.7,step:.05,ticks:[.75,.8,.85,.9,.95,1],lfs:16,dec:2,gStep:13.13,topFill:.985,stripT:1150,stripH:84.6,stripW:656.7,stripMax:656.7});

// draws red runs of both trait rows from the 0/1 flags of BCR
function traitRows(h,flags){const rows=runs(flags,0).concat(runs(flags.map(f=>!f),1));
 custom(h,rows.map(r=>[r[0],r[2]]),(p,api)=>{const r=rows[p.dataIndex],a=api.coord([r[0],r[2]]),b=api.coord([r[1],r[2]]),s=api.size([1,1]);return{type:"rect",shape:{x:a[0],y:a[1]-s[1]/2,width:b[0]-a[0]+.2,height:s[1]},style:{fill:"#ee3a24"}};});}

// ---- sample dendrogram D
(function(){
 const merges=[],leaves=[];let n=0;
 (function walk(node){if(typeof node==="string"){const x=n++;leaves.push({x,name:node});return{x,h:null};}
  const L=walk(node[1]),R=walk(node[2]),h=node[0];
  const hl=L.h===null?h-dHang:L.h,hr=R.h===null?h-dHang:R.h;
  if(L.h===null)leaves.find(q=>q.x===L.x).top=hl; if(R.h===null)leaves.find(q=>q.x===R.x).top=hr;
  merges.push([L.x,R.x,h,hl,hr]);return{x:(L.x+R.x)/2,h};})(dTree);
 const g=addGrid(35.5,754.4,582.9,279.6,{type:"value",min:-1.274,max:32.48,show:false},
  {type:"value",min:70,max:109.3,splitLine:{show:false},axisLine:{show:true,lineStyle:{color:"#555"}},axisTick:{show:true,length:5,lineStyle:{color:"#555"},customValues:[70,80,90,100]},axisLabel:{rotate:90,fontSize:7.5,fontFamily:HEAD,color:"#333",margin:9,customValues:[70,80,90,100]}});
 custom(g,idx(merges),mergeRender(merges,{fill:"none",stroke:"#666",lineWidth:1.15}));
 custom(g,idx(leaves),(p,api)=>{const l=leaves[p.dataIndex],c=api.coord([l.x,l.top]);return{type:"text",x:c[0],y:c[1]+4.5,rotation:Math.PI/2,style:{text:l.name,align:"right",verticalAlign:"middle",font:"6.6px "+HEAD,fill:"#222"}};});
 const h=addGrid(49,1116,569.4,117.6,{type:"value",min:-.5,max:32.5,show:false},{type:"category",inverse:true,data:traits,splitLine:{show:true,lineStyle:{color:"#999"}},axisLine:{show:false},axisTick:{show:false},axisLabel:{fontSize:6.5,fontFamily:HEAD,color:"#444",margin:3,interval:0}});
 const flags=[...dBCR].map(c=>c==="1");
 const rows=runs(flags,0).concat(runs(flags.map(f=>!f),1));
 custom(h,rows.map(r=>[r[0],r[2]]),(p,api)=>{const r=rows[p.dataIndex],a=api.coord([r[0]-.5,r[2]]),b=api.coord([r[1]-.5,r[2]]),s=api.size([1,1]);return{type:"rect",shape:{x:a[0],y:a[1]-s[1]/2,width:b[0]-a[0],height:s[1]},style:{fill:"#ee3a24"}};});
})();
// ---- sample dendrogram A
(function(){
 const g=addGrid(36.7,46.7,580.3,279.3,{type:"value",min:-20.8,max:559.5,show:false},
  {type:"value",min:60,max:165,splitLine:{show:false},axisLine:{show:true,lineStyle:{color:"#555"}},axisTick:{show:true,length:5,lineStyle:{color:"#555"},customValues:[60,80,100,120,140,160]},axisLabel:{rotate:90,fontSize:7.5,fontFamily:HEAD,color:"#333",margin:9,customValues:[60,80,100,120,140,160]}});
 const leaves=aLeafTops.map((t,i)=>[i*2.5,t]).concat(aLeafTops2.map((t,i)=>[i*2.5+1.25,t]));
 custom(g,leaves.map(l=>[l[0]]),(p,api)=>{const l=leaves[p.dataIndex],c=api.coord([l[0],l[1]]),u=api.coord([l[0],l[1]+aHang]);
   return{type:"group",children:[lineEl(u,c,{stroke:"#777",lineWidth:1.1}),{type:"text",x:c[0],y:c[1]+1,rotation:Math.PI/2,style:{text:aLeafNames[p.dataIndex%aLeafNames.length],align:"right",verticalAlign:"middle",font:"6.3px "+HEAD,fill:"#111"}}]};},1);
 custom(g,idx(aMerges),mergeRender(aMerges,{fill:"none",stroke:"#666",lineWidth:1}),2);
 const h=addGrid(57.5,412.5,559.5,119,{type:"value",min:0,max:aSamples,show:false},{type:"category",inverse:true,data:traits,splitLine:{show:true,lineStyle:{color:"#888"}},axisLine:{show:false},axisTick:{show:false},axisLabel:{fontSize:6.5,fontFamily:HEAD,color:"#444",margin:3,interval:0}});
 const pos=new Set(aBCRpositive),flags=[];for(let i=0;i<aSamples;i++)flags.push(pos.has(i));
 traitRows(h,flags);
})();
// ---- free text
const big="bold 28px "+HEAD;
text("A",14,15,big);text("B",640,15,big);text("C",1408,14,"bold 28px "+HEAD);text("D",11,706,big);text("E",639,706,big);text("F",1406,706,big);
text("Sample dendrogram and trait heatmap",337.5,34,"bold 8.5px "+HEAD);
text("Sample dendrogram and trait heatmap",333.5,742,"bold 8.4px "+HEAD);
text("Gene dendrogram and module colors",1031,40,"bold 17.7px "+HEAD,{fill:"#111"});
text("Gene dendrogram and module colors",1031.5,739,"bold 17.7px "+HEAD,{fill:"#111"});
text("Module\u2212trait relationships",1697,14,"bold 21.4px "+HEAD);
text("Module\u2212trait relationships",1712.7,739,"bold 20.5px "+HEAD);
text("Height",640,259,"15.5px "+HEAD,{rot:Math.PI/2,fill:"#222"});
text("Height",642,956,"15.5px "+HEAD,{rot:Math.PI/2,fill:"#222"});
text("Height",5.5,226,"bold 7px "+HEAD,{rot:Math.PI/2,fill:"#333"});
text("Height",5.5,932,"bold 7px "+HEAD,{rot:Math.PI/2,fill:"#333"});
text("Dynamic Tree Cut",723,497,"12.6px "+HEAD,{align:"right",fill:"#222"});
text("Dynamic Tree Cut",725,1193,"12.6px "+HEAD,{align:"right",fill:"#222"});

const chart=echarts.init(document.getElementById("c"),null,{renderer:"canvas",width:1938,height:1309});
chart.setOption({animation:false,backgroundColor:"#fff",grid:grids,xAxis:xAxes,yAxis:yAxes,series,graphic:{elements:texts}});
</script></body></html>
